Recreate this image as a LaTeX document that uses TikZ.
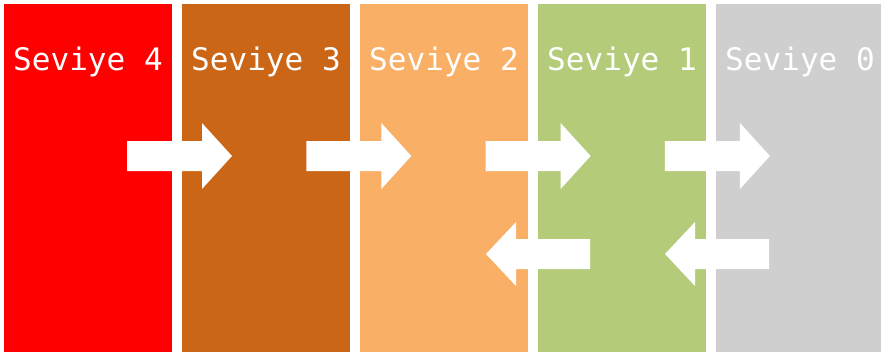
\documentclass[tikz,border=0pt]{standalone}
\usepackage{fontspec}
\setmonofont{DejaVu Sans Mono}
\usepackage{xcolor}
\usetikzlibrary{positioning}

\definecolor{seviyeA}{RGB}{255,0,0}
\definecolor{seviyeB}{RGB}{203,102,23}
\definecolor{seviyeC}{RGB}{249,176,102}
\definecolor{seviyeD}{RGB}{180,204,122}
\definecolor{seviyeE}{RGB}{207,207,207}

\begin{document}
\begin{tikzpicture}[x=0.03cm,y=-0.03cm,
  lvl/.style={anchor=base,text=white,inner sep=0pt,
    font=\ttfamily\fontsize{26.5}{30}\selectfont},
  blk/.style={fill=white,draw=none}]

  \clip (0,0) rectangle (881,353);

  % columns & labels
  \foreach \n/\c [count=\i from 0] in {4/seviyeA,3/seviyeB,2/seviyeC,1/seviyeD,0/seviyeE} {
    \fill[\c] ({4+178*\i},4) rectangle ++(168,348);
    \node[lvl] (lbl\n) at ({88+178*\i},70) {Seviye \n};
  }

  % arrows to the right
  \foreach \i in {0,...,3} {
    \def\x{127+179.3*\i}
    \fill[blk] ({\x},141) -- ({\x+75},141) -- ({\x+75},123) -- ({\x+105},156)
      -- ({\x+75},189) -- ({\x+75},171) -- ({\x},171) -- cycle;
  }

  % arrows to the left
  \foreach \x in {486,665} {
    \fill[blk] (\x,254) -- (\x+30,222) -- (\x+30,239) -- (\x+104,239)
      -- (\x+104,269) -- (\x+30,269) -- (\x+30,286) -- cycle;
  }

\end{tikzpicture}
\end{document}
